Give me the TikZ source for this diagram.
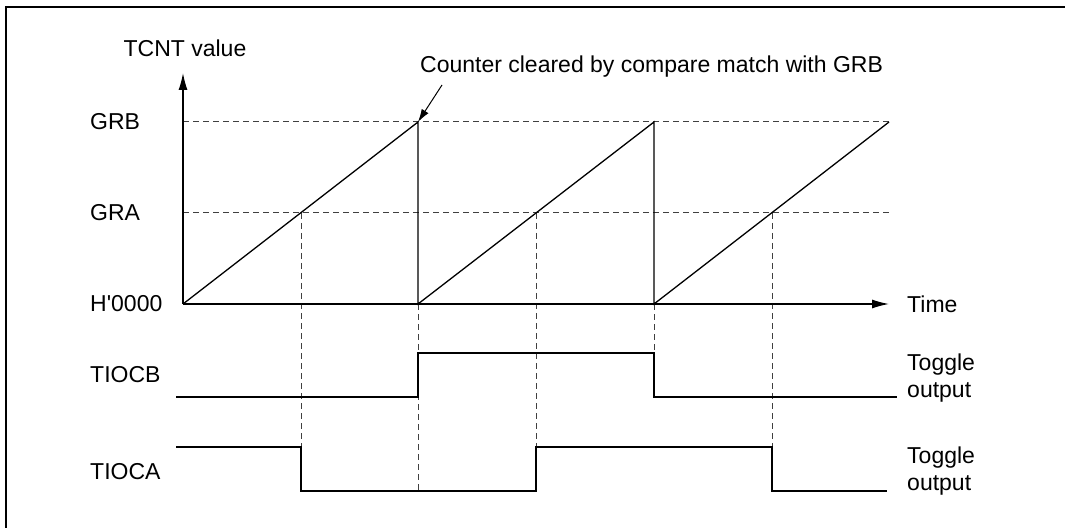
\documentclass[tikz,border=0pt]{standalone}
\usepackage{fontspec}
\setmainfont{Liberation Sans}
\usetikzlibrary{arrows.meta}

\begin{document}
\begin{tikzpicture}[
	x=1pt, y=1pt,
	lbl/.style={anchor=west, inner sep=0pt, font=\fontsize{23}{27}\selectfont, align=left},
	wave/.style={line width=1.3pt},
	guide/.style={line width=1pt, dash pattern=on 6pt off 4pt, black!75},
	axis/.style={line width=1.3pt, -{Latex[length=17pt,width=9pt]}},
	note/.style={line width=1pt, -{Latex[length=13pt,width=8pt]}},
	]
	\useasboundingbox (0,0) rectangle (1065,528);
	% levels and times
	\def\yB{406} \def\yA{315} \def\yO{224}
	\def\tA{301} \def\tB{418} \def\tC{536} \def\tD{654} \def\tE{772} \def\tF{889}
	\def\bHi{175} \def\bLo{131} \def\aHi{81} \def\aLo{37}
	
	% frame (top and left edges)
	\draw[line width=2pt] (1065,521) -- (6,521) -- (6,0);
	
	\coordinate (o) at (183,\yO);
	\coordinate (ytip) at (183,455);
	\coordinate (xtip) at (\tF,\yO);
	
	% labels
	\node[lbl, anchor=center] (tcnt) at (185,480) {TCNT value};
	\node[lbl] (grb) at (90,\yB) {GRB};
	\node[lbl] (gra) at (90,\yA) {GRA};
	\node[lbl] (zero) at (90,\yO) {H\textquotesingle 0000};
	\node[lbl] (time) at (907,\yO) {Time};
	\node[lbl] (tiocb) at (90,153) {TIOCB};
	\node[lbl] (tioca) at (90,56) {TIOCA};
	\node[lbl] (togb) at (907,150) {Toggle\\output};
	\node[lbl] (toga) at (907,57) {Toggle\\output};
	\node[lbl] (clr) at (420,461) {Counter cleared by compare match with GRB};
	
	% compare levels
	\draw[guide] (o |- 0,\yB) -- (\tF,\yB);
	\draw[guide] (o |- 0,\yA) -- (\tF,\yA);
	
	% guide lines down to the outputs
	\draw[guide] (\tA,\yA) -- (\tA,\aHi);
	\draw[guide] (\tB,\yO) -- (\tB,\aLo);
	\draw[guide] (\tC,\yA) -- (\tC,\aHi);
	\draw[guide] (\tD,\yO) -- (\tD,\bLo);
	\draw[guide] (\tE,\yA) -- (\tE,\aHi);
	
	% axes
	\draw[axis] (o) -- (ytip);
	\draw[axis] (o) -- (xtip);
	
	% counter ramps
	\draw[wave] (o) -- (\tB,\yB) -- (\tB,\yO) -- (\tD,\yB) -- (\tD,\yO) -- (\tF,\yB);
	
	% outputs
	\draw[wave] (176,\bLo) -- (\tB,\bLo) -- (\tB,\bHi) -- (\tD,\bHi) -- (\tD,\bLo) -- (897,\bLo);
	\draw[wave] (176,\aHi) -- (\tA,\aHi) -- (\tA,\aLo) -- (\tC,\aLo) -- (\tC,\aHi)
		-- (\tE,\aHi) -- (\tE,\aLo) -- (887,\aLo);
	
	\draw[note] (442,443) -- (\tB,\yB);
	
\end{tikzpicture}
\end{document}
